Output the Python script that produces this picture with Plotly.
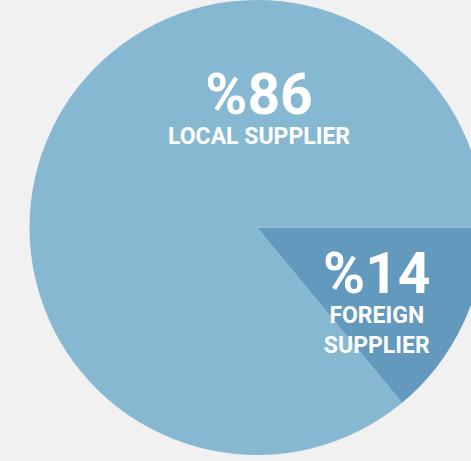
import plotly.graph_objects as go

# Supplier share, in percent
categories = ["FOREIGN SUPPLIER", "LOCAL SUPPLIER"]
label_lines = ["FOREIGN<br>SUPPLIER", "LOCAL SUPPLIER"]
values = [14, 86]
colors = ["#6299bd", "#86b8d2"]

W, H = 514, 461
PLOT_H = 455

fig = go.Figure(
    go.Pie(
        labels=categories,
        values=values,
        marker=dict(colors=colors, line=dict(width=0)),
        sort=False,
        direction="clockwise",
        rotation=90,
        textinfo="none",
        hoverinfo="label+percent",
        showlegend=False,
    )
)

# pixel centres of each slice's label block (value above caption)
label_pos = {"FOREIGN SUPPLIER": (377, 299.5), "LOCAL SUPPLIER": (259, 105)}

font_family = "Roboto, Arial, sans-serif"
annotations = []
for cat, line, val in zip(categories, label_lines, values):
    x, y = label_pos[cat]
    annotations.append(dict(
        text=f"<span style='font-size:57px'>%{val}</span><br>{line}",
        x=x / W, y=1 - y / PLOT_H, xref="paper", yref="paper",
        xanchor="center", yanchor="middle", align="center", showarrow=False,
        font=dict(family=font_family, size=23, color="white", weight="bold"),
    ))

fig.update_layout(
    width=W,
    height=H,
    margin=dict(l=0, r=0, t=0, b=H - PLOT_H, pad=0),
    paper_bgcolor="#f1f1f1",
    plot_bgcolor="#f1f1f1",
    annotations=annotations,
)

fig.write_html(
    "out.html",
    config={"displayModeBar": False},
    post_script="document.documentElement.style.overflow='hidden';"
                "document.body.style.overflow='hidden';"
                "document.body.style.margin='0';",
)
